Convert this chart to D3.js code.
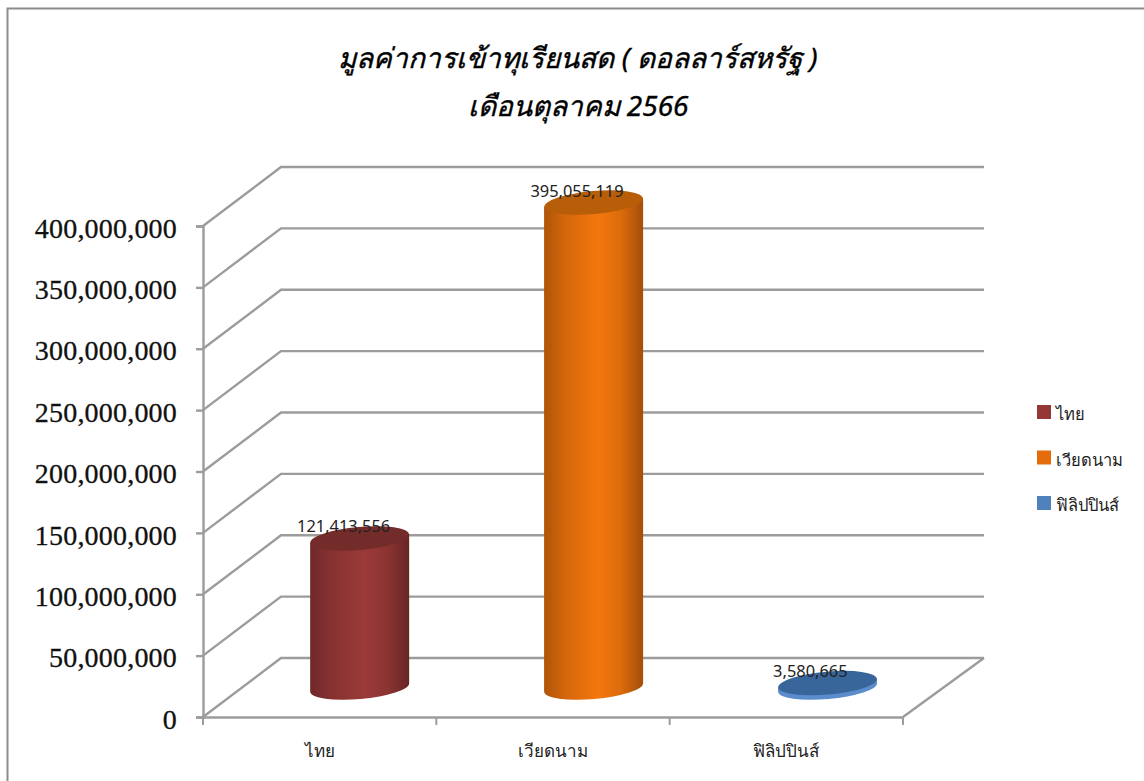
<!DOCTYPE html>
<html>
<head>
<meta charset="utf-8">
<script src="https://cdn.jsdelivr.net/npm/d3@7"></script>
<style>
  html, body { margin: 0; padding: 0; background: #fff; }
  svg { display: block; }
</style>
</head>
<body>
<div id="chart"></div>
<script>
var titleLines = ["มูลค่าการเข้าทุเรียนสด ( ดอลลาร์สหรัฐ )", "เดือนตุลาคม 2566"];
var categories = ["ไทย", "เวียดนาม", "ฟิลิปปินส์"];
var values = [121413556, 395055119, 3580665];
var yTicks = [0, 50000000, 100000000, 150000000, 200000000, 250000000, 300000000, 350000000, 400000000];
var barColors = ["#9b3a38", "#f4770d", "#4f81bd"];
var topColors = ["#742c2b", "#b85d08", "#38659a"];
var edgeColors = ["#5f2625", "#9c4c06", "#5b8ccb"];
var legendColors = ["#953735", "#e46c0a", "#4f81bd"];

var width = 1144, height = 781;

// front plane of the 3D box, and how far back the wall sits
var plot = {left: 203, right: 903, top: 226, bottom: 717};
var depth = {x: 78, y: -59};
var backRight = 984;

var x = d3.scaleBand().domain(categories).range([plot.left, plot.right]);
var y = d3.scaleLinear().domain([0, 400000000]).range([plot.bottom, plot.top]);
var fmt = d3.format(",");

var svg = d3.select("#chart").append("svg")
    .attr("width", width)
    .attr("height", height);

// chart frame, only top and left are in the shot
svg.append("rect")
    .attr("x", 7.5).attr("y", 8.5)
    .attr("width", 1200).attr("height", 800)
    .attr("fill", "#fff")
    .attr("stroke", "#8c8c8c")
    .attr("stroke-width", 2);

var title = svg.append("g")
    .attr("font-family", "'Noto Sans', 'DejaVu Sans', sans-serif")
    .attr("font-style", "italic")
    .attr("font-size", 28)
    .attr("stroke", "#000")
    .attr("stroke-width", 0.4)
    .attr("text-anchor", "middle")
    .attr("fill", "#000");
title.selectAll("text")
    .data(titleLines)
  .enter().append("text")
    .attr("x", 578)
    .attr("y", function(d, i) { return 68 + i * 48; })
    .text(function(d) { return d; });

// wall and floor grid lines
svg.append("g").selectAll("path")
    .data(yTicks)
  .enter().append("path")
    .attr("fill", "none")
    .attr("stroke", "#9c9c9c")
    .attr("stroke-width", 2.4)
    .attr("d", function(d) {
      var p = d3.path();
      p.moveTo(plot.left, y(d));
      p.lineTo(plot.left + depth.x, y(d) + depth.y);
      p.lineTo(backRight, y(d) + depth.y);
      return p.toString();
    });

// right edge of the floor
svg.append("line")
    .attr("x1", plot.right).attr("y1", plot.bottom)
    .attr("x2", backRight).attr("y2", plot.bottom + depth.y)
    .attr("stroke", "#9c9c9c")
    .attr("stroke-width", 2.4);

// Y axis
var yAxis = svg.append("g")
    .attr("transform", "translate(" + plot.left + ",0)")
    .call(d3.axisLeft(y).tickValues(yTicks).tickFormat(fmt).tickSize(7).tickPadding(18));
yAxis.selectAll("path, line").attr("stroke", "#9c9c9c").attr("stroke-width", 2.4);
yAxis.selectAll("text")
    .attr("font-family", "'Liberation Serif', serif")
    .attr("font-size", 28)
    .attr("letter-spacing", 0.2)
    .attr("stroke", "#111")
    .attr("stroke-width", 0.3)
    .attr("fill", "#111")
    .attr("dy", "0.4em")
    .attr("dx", -1);

// X axis, ticks fall on the band edges so they are added by hand
var xAxis = svg.append("g")
    .attr("transform", "translate(0," + plot.bottom + ")")
    .call(d3.axisBottom(x).tickSize(0).tickPadding(28));
xAxis.select("path").attr("stroke", "#9c9c9c").attr("stroke-width", 2.4);
xAxis.selectAll("text")
    .attr("font-family", "'Noto Sans', 'DejaVu Sans', sans-serif")
    .attr("font-size", 17)
    .attr("fill", "#222");
xAxis.selectAll("line.edge")
    .data(categories.concat("end"))
  .enter().append("line")
    .attr("class", "edge")
    .attr("x1", function(d, i) { return plot.left + i * x.bandwidth(); })
    .attr("x2", function(d, i) { return plot.left + i * x.bandwidth(); })
    .attr("y1", 0).attr("y2", 8)
    .attr("stroke", "#9c9c9c")
    .attr("stroke-width", 2);

// shading across each cylinder
var defs = svg.append("defs");
categories.forEach(function(c, i) {
  var grad = defs.append("linearGradient").attr("id", "cyl" + i);
  grad.append("stop").attr("offset", "0%").attr("stop-color", d3.color(barColors[i]).darker(0.95));
  grad.append("stop").attr("offset", "22%").attr("stop-color", d3.color(barColors[i]).darker(0.4));
  grad.append("stop").attr("offset", "55%").attr("stop-color", barColors[i]);
  grad.append("stop").attr("offset", "78%").attr("stop-color", d3.color(barColors[i]).darker(0.3));
  grad.append("stop").attr("offset", "100%").attr("stop-color", d3.color(barColors[i]).darker(1.15));
});

var radius = 49.5, ry = 11.5, tilt = -5;
var lean = radius * Math.sin(-tilt * Math.PI / 180);
function cx(d, i) { return x(categories[i]) + x.bandwidth() / 2 + depth.x / 2 + 1 + i * 0.6; }
function floorY() { return y(0) + depth.y / 2; }
function topY(d) { return floorY() - (y(0) - y(d)); }

var bars = svg.append("g").selectAll("g")
    .data(values)
  .enter().append("g");

bars.append("path")
    .attr("fill", function(d, i) { return "url(#cyl" + i + ")"; })
    .attr("d", function(d, i) {
      var c = cx(d, i), t = topY(d), b = floorY();
      return "M" + (c - radius) + "," + (t + lean)
        + "L" + (c - radius) + "," + (b + lean)
        + "A" + radius + "," + ry + " " + tilt + " 0 0 " + (c + radius) + "," + (b - lean)
        + "L" + (c + radius) + "," + (t - lean) + "Z";
    });

// short cylinder: lighter rim under the top face
bars.filter(function(d, i) { return i === 2; }).select("path")
    .attr("fill", edgeColors[2]);

bars.append("ellipse")
    .attr("rx", radius)
    .attr("ry", ry)
    .attr("fill", function(d, i) { return topColors[i]; })
    .attr("transform", function(d, i) {
      return "translate(" + cx(d, i) + "," + topY(d) + ") rotate(" + tilt + ")";
    });

// data labels sit on top of the cylinders
svg.append("g").selectAll("text")
    .data(values)
  .enter().append("text")
    .attr("x", function(d, i) { return cx(d, i) - 16 - i * 0.6; })
    .attr("y", function(d) { return topY(d) - 6; })
    .attr("text-anchor", "middle")
    .attr("font-family", "'Noto Sans', sans-serif")
    .attr("font-size", 16.4)
    .attr("fill", "#222")
    .text(fmt);

// legend
var legend = svg.append("g").selectAll("g")
    .data(categories)
  .enter().append("g")
    .attr("transform", function(d, i) { return "translate(1037," + (405 + i * 45.5) + ")"; });
legend.append("rect")
    .attr("width", 14).attr("height", 14)
    .attr("fill", function(d, i) { return legendColors[i]; });
legend.append("text")
    .attr("x", 19).attr("y", 15)
    .attr("font-family", "'Noto Sans', 'DejaVu Sans', sans-serif")
    .attr("font-size", 16.5)
    .attr("fill", "#222")
    .text(function(d) { return d; });
</script>
</body>
</html>
